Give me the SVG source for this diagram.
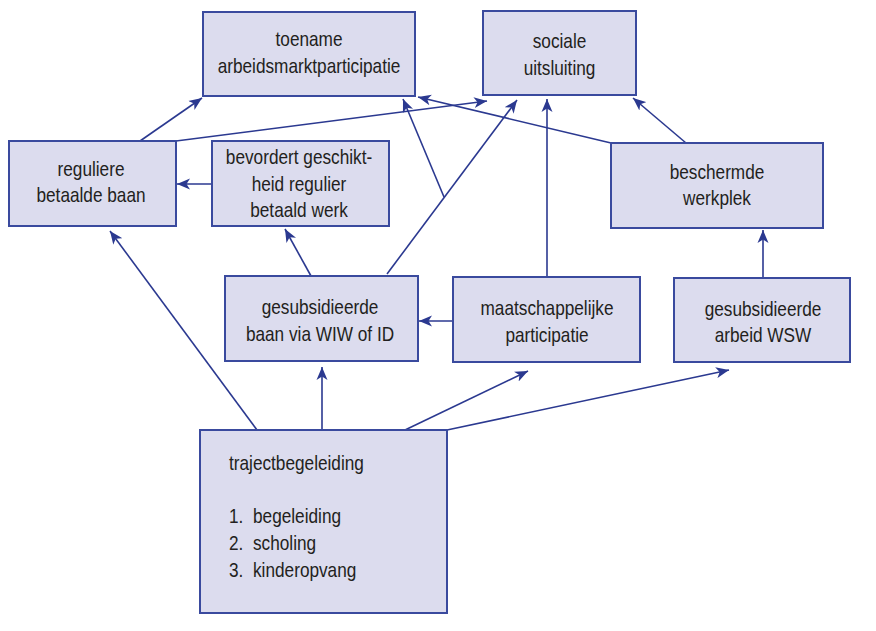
<svg xmlns="http://www.w3.org/2000/svg" width="876" height="631" viewBox="0 0 876 631">
<defs>
<style>
.box{fill:#dcdcee;stroke:#3a4a9e;stroke-width:2}
.lbl{font-family:"Liberation Sans",Arial,sans-serif;font-size:21px;fill:#231f20;text-anchor:middle}
.lft{text-anchor:start}
.con{fill:none;stroke:#2b3990;stroke-width:1.6;marker-end:url(#arr)}
</style>
<marker id="arr" markerUnits="userSpaceOnUse" markerWidth="14" markerHeight="12" refX="13" refY="5.5" orient="auto" viewBox="0 0 14 11">
<path d="M0,0 L13,5.5 L0,11 L3.5,5.5 z" fill="#2b3990"/>
</marker>
</defs>
<rect width="876" height="631" fill="#ffffff"/>
<g id="connectors">
<path class="con" d="M140,141 L202,98"/>
<path class="con" d="M176,141 L487,101"/>
<path class="con" d="M212,184 L177,184"/>
<path class="con" d="M611,143 L418,97"/>
<path class="con" d="M686,143 L633,98"/>
<path class="con" d="M387,274 L517,100"/>
<path class="con" d="M444,197 L403,99"/>
<path class="con" d="M311,276 L285,229"/>
<path class="con" d="M547,277 L547,99"/>
<path class="con" d="M453,321 L419,321"/>
<path class="con" d="M763,278 L763,230"/>
<path class="con" d="M257,430 L110,231"/>
<path class="con" d="M322,430 L322,367"/>
<path class="con" d="M405,430 L528,371"/>
<path class="con" d="M447,430 L729,370"/>
</g>
<g id="toename">
<rect class="box" x="203" y="12" width="212" height="84"/>
<g transform="translate(309,0) scale(0.82,1)"><text class="lbl" x="0" y="46">toename</text><text class="lbl" x="0" y="73">arbeidsmarktparticipatie</text></g>
</g>
<g id="sociale">
<rect class="box" x="483" y="11" width="153" height="84"/>
<g transform="translate(559.5,0) scale(0.82,1)"><text class="lbl" x="0" y="48">sociale</text><text class="lbl" x="0" y="75">uitsluiting</text></g>
</g>
<g id="reguliere">
<rect class="box" x="9" y="141" width="167" height="85"/>
<g transform="translate(91,0) scale(0.82,1)"><text class="lbl" x="0" y="176">reguliere</text><text class="lbl" x="0" y="202">betaalde baan</text></g>
</g>
<g id="bevordert">
<rect class="box" x="212" y="141" width="177" height="85"/>
<g transform="translate(299,0) scale(0.82,1)"><text class="lbl" x="0" y="164">bevordert geschikt-</text><text class="lbl" x="0" y="191">heid regulier</text><text class="lbl" x="0" y="217">betaald werk</text></g>
</g>
<g id="beschermde">
<rect class="box" x="611" y="143" width="212" height="85"/>
<g transform="translate(717,0) scale(0.82,1)"><text class="lbl" x="0" y="179">beschermde</text><text class="lbl" x="0" y="205">werkplek</text></g>
</g>
<g id="gesubsidieerde-baan">
<rect class="box" x="225" y="276" width="193" height="85"/>
<g transform="translate(320,0) scale(0.82,1)"><text class="lbl" x="0" y="314">gesubsidieerde</text><text class="lbl" x="0" y="341">baan via WIW of ID</text></g>
</g>
<g id="maatschappelijke">
<rect class="box" x="453" y="277" width="187" height="85"/>
<g transform="translate(547,0) scale(0.82,1)"><text class="lbl" x="0" y="315">maatschappelijke</text><text class="lbl" x="0" y="342">participatie</text></g>
</g>
<g id="wsw">
<rect class="box" x="674" y="278" width="176" height="84"/>
<g transform="translate(763,0) scale(0.82,1)"><text class="lbl" x="0" y="316">gesubsidieerde</text><text class="lbl" x="0" y="342">arbeid WSW</text></g>
</g>
<g id="trajectbegeleiding">
<rect class="box" x="200" y="430" width="247" height="183"/>
<g transform="translate(229,0) scale(0.82,1)">
<text class="lbl lft" x="0" y="470">trajectbegeleiding</text>
<text class="lbl lft" y="523"><tspan x="0">1.</tspan><tspan x="29.3">begeleiding</tspan></text>
<text class="lbl lft" y="550"><tspan x="0">2.</tspan><tspan x="29.3">scholing</tspan></text>
<text class="lbl lft" y="577"><tspan x="0">3.</tspan><tspan x="29.3">kinderopvang</tspan></text>
</g>
</g>
</svg>
